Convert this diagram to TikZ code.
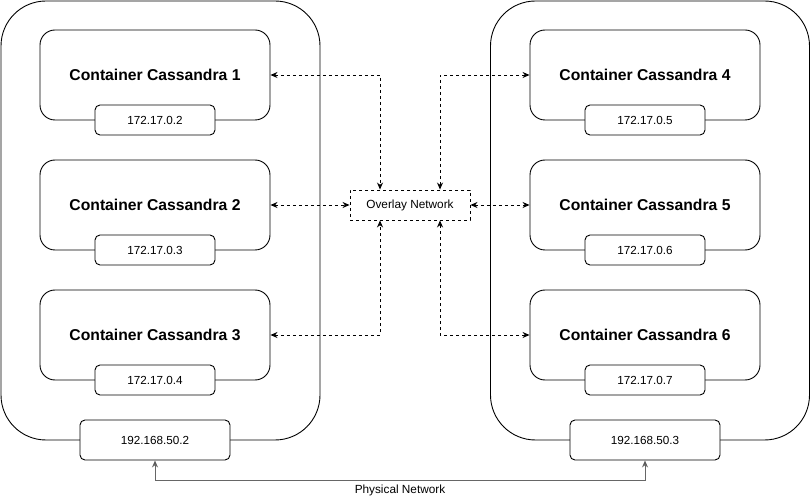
\documentclass[tikz,border=0pt]{standalone}
\usepackage{fontspec}
\setmainfont{Liberation Sans}
\usetikzlibrary{arrows.meta}
\definecolor{physgray}{HTML}{666666}
\begin{document}
\begin{tikzpicture}[x=1pt,y=-1pt,
  host/.style={draw, line width=0.9pt, rounded corners=45pt, minimum width=319pt, minimum height=439pt, inner sep=0pt},
  cont/.style={draw, fill=white, line width=0.9pt, rounded corners=15pt, minimum width=230pt, minimum height=90pt, inner sep=0pt, font=\bfseries\fontsize{15.7}{18}\selectfont},
  ipbox/.style={draw, fill=white, line width=0.9pt, rounded corners=5pt, minimum width=120pt, minimum height=30pt, inner sep=0pt, font=\fontsize{11.7}{14}\selectfont},
  hostip/.style={ipbox, minimum width=150pt, minimum height=40pt},
  ovl/.style={draw, dash pattern=on 3pt off 3pt, line width=0.9pt, fill=white, minimum width=120pt, minimum height=30pt, inner sep=0pt, font=\fontsize{11.8}{14}\selectfont},
  link/.style={dash pattern=on 3pt off 3pt, line width=0.9pt, {Stealth[length=7pt,width=6pt]}-{Stealth[length=7pt,width=6pt]}},
  phys/.style={line width=0.9pt, draw=physgray, {Stealth[length=7pt,width=6pt,fill=black]}-{Stealth[length=7pt,width=6pt,fill=black]}},
  lbl/.style={font=\fontsize{11.8}{14}\selectfont, inner sep=0pt}
]
\useasboundingbox (0,0) rectangle (812,497);

\node[host] (host1) at (160.5,220.5) {};
\node[host] (host2) at (650,220.5) {};

\node[cont] (c1) at (155,75) {Container Cassandra 1};
\node[cont] (c2) at (155,205) {Container Cassandra 2};
\node[cont] (c3) at (155,335) {Container Cassandra 3};
\node[cont] (c4) at (645,75) {Container Cassandra 4};
\node[cont] (c5) at (645,205) {Container Cassandra 5};
\node[cont] (c6) at (645,335) {Container Cassandra 6};

\node[ipbox] (ip1) at (155,120) {172.17.0.2};
\node[ipbox] (ip2) at (155,250) {172.17.0.3};
\node[ipbox] (ip3) at (155,380) {172.17.0.4};
\node[ipbox] (ip4) at (645,120) {172.17.0.5};
\node[ipbox] (ip5) at (645,250) {172.17.0.6};
\node[ipbox] (ip6) at (645,380) {172.17.0.7};

\node[hostip] (h1) at (155,440) {192.168.50.2};
\node[hostip] (h2) at (645,440) {192.168.50.3};

\node[ovl] (ov) at (410,205) {Overlay Network};

\draw[link] (c1.east) -| ([xshift=-30pt]ov.north);
\draw[link] (c2.east) -- (ov.west);
\draw[link] (c3.east) -| ([xshift=-30pt]ov.south);
\draw[link] (c4.west) -| ([xshift=30pt]ov.north);
\draw[link] (ov.east) -- (c5.west);
\draw[link] (c6.west) -| ([xshift=30pt]ov.south);

\draw[phys] (h1.south) -- ++(0,20) -| (h2.south);
\node[lbl] (phys) at (400,490) {Physical Network};
\end{tikzpicture}
\end{document}
